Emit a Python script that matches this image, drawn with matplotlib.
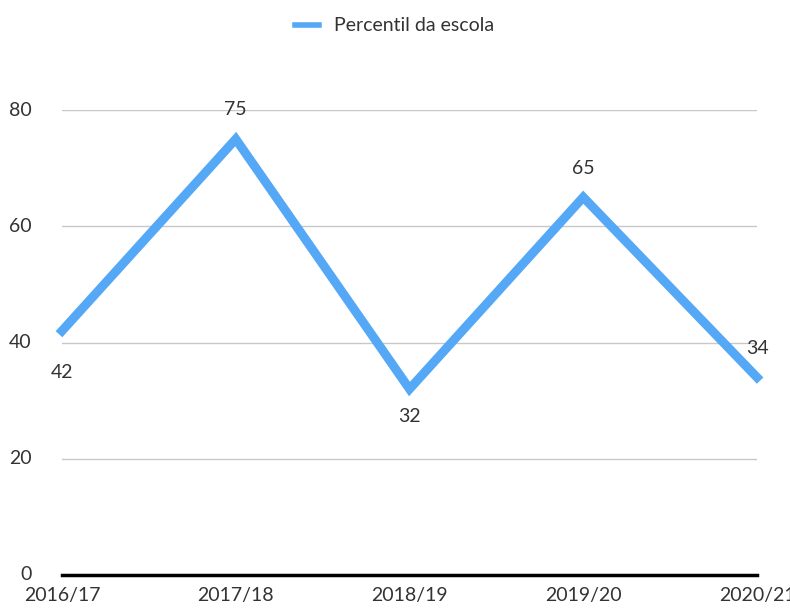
import numpy as np
import matplotlib.pyplot as plt

plt.rcParams['font.family'] = ['Lato', 'DejaVu Sans']

years = ["2016/17", "2017/18", "2018/19", "2019/20", "2020/21"]
percentil = [42, 75, 32, 65, 34]
label_pos = ["below", "above", "below", "above", "above"]

fig = plt.figure(figsize=(7.9, 6.1), dpi=100)
ax = fig.add_axes([62 / 790, 35 / 610, (757 - 62) / 790, (575 - 110) / 610])

x = np.arange(len(years))
line, = ax.plot(x, percentil, color="#55a8f5", linewidth=6.5, solid_joinstyle="miter",
                label="Percentil da escola", clip_on=False, zorder=3)

for i, (xi, v, pos) in enumerate(zip(x, percentil, label_pos)):
    if pos == "above":
        dy = 21
    else:
        dy = -30 if i == 0 else -20
    ax.annotate(str(v), (xi, v), xytext=(0, dy), textcoords="offset points",
                ha="center", va="center", fontsize=14, color="#333333")

ax.set_xlim(0, len(years) - 1)
ax.set_ylim(0, 80)
ax.set_yticks([0, 20, 40, 60, 80])
ax.set_xticks(x)
ax.set_xticklabels(years)
ax.yaxis.grid(True, color="#c8c8c8", linewidth=1)
ax.set_axisbelow(True)
for s in ["top", "right", "left"]:
    ax.spines[s].set_visible(False)
ax.spines["bottom"].set_linewidth(2.5)
ax.spines["bottom"].set_color("black")
ax.tick_params(axis="both", length=0, labelsize=14, colors="#333333")
ax.tick_params(axis="y", pad=22)
ax.tick_params(axis="x", pad=9)
for lbl in ax.get_yticklabels():
    lbl.set_verticalalignment("center")

leg = fig.legend(handles=[line], loc="upper center", bbox_to_anchor=(0.5, 1.0),
                 frameon=False, fontsize=14, handlelength=1.2, handletextpad=0.8)
for h in leg.get_lines():
    h.set_linewidth(4)
for t in leg.get_texts():
    t.set_color("#333333")

fig.savefig("out.png", dpi=100)
